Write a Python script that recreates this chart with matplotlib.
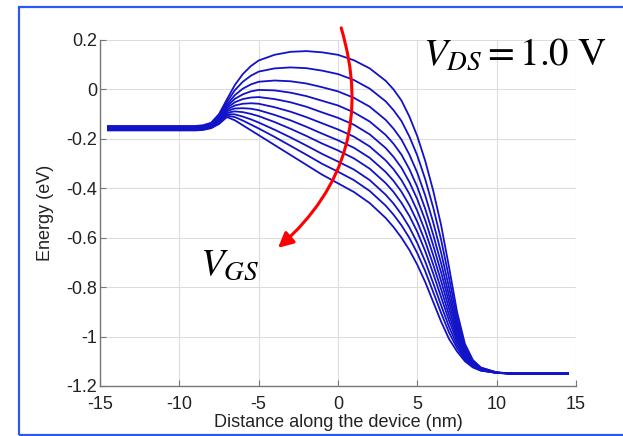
import matplotlib.pyplot as plt
from matplotlib.patches import Rectangle

# position along the device (nm)
distance_nm = [-14.5, -9, -8.5, -8, -7.5, -7, -6.5, -6, -5.5, -5, -4, -3, -2, -1, 0,
               1, 2, 3, 3.5, 4, 4.5, 5, 5.5, 6, 6.5, 7, 7.5, 8, 8.5, 9, 10, 11, 14.5]

# conduction band edge (eV), one profile per gate bias, lowest V_GS first
band_01 = [-0.148, -0.148, -0.145, -0.135, -0.100, -0.040, 0.018, 0.062, 0.094, 0.117, 0.140,
           0.152, 0.155, 0.150, 0.140, 0.118, 0.085, 0.035, 0.000, -0.045, -0.110, -0.190,
           -0.290, -0.410, -0.550, -0.720, -0.900, -1.030, -1.095, -1.125, -1.145, -1.150, -1.150]
band_02 = [-0.151, -0.151, -0.148, -0.138, -0.106, -0.051, -0.003, 0.031, 0.055, 0.072, 0.085,
           0.089, 0.086, 0.076, 0.062, 0.038, 0.003, -0.048, -0.084, -0.128, -0.191, -0.268,
           -0.364, -0.478, -0.609, -0.764, -0.924, -1.041, -1.100, -1.127, -1.145, -1.150, -1.150]
band_03 = [-0.153, -0.153, -0.150, -0.141, -0.111, -0.061, -0.023, 0.003, 0.020, 0.031, 0.036,
           0.033, 0.024, 0.009, -0.008, -0.034, -0.070, -0.123, -0.159, -0.203, -0.264, -0.338,
           -0.430, -0.538, -0.661, -0.803, -0.946, -1.050, -1.104, -1.129, -1.146, -1.150, -1.150]
band_04 = [-0.155, -0.155, -0.153, -0.144, -0.116, -0.068, -0.038, -0.020, -0.008, -0.002, -0.004,
           -0.013, -0.027, -0.046, -0.065, -0.093, -0.130, -0.184, -0.220, -0.264, -0.323, -0.395,
           -0.484, -0.588, -0.704, -0.835, -0.963, -1.058, -1.107, -1.130, -1.146, -1.150, -1.150]
band_05 = [-0.157, -0.157, -0.154, -0.146, -0.120, -0.075, -0.052, -0.039, -0.033, -0.031, -0.039,
           -0.052, -0.070, -0.093, -0.115, -0.143, -0.182, -0.237, -0.273, -0.317, -0.375, -0.445,
           -0.530, -0.631, -0.741, -0.862, -0.978, -1.064, -1.110, -1.131, -1.146, -1.150, -1.150]
band_06 = [-0.158, -0.158, -0.156, -0.148, -0.123, -0.082, -0.065, -0.058, -0.056, -0.058, -0.072,
           -0.090, -0.112, -0.137, -0.162, -0.191, -0.231, -0.287, -0.323, -0.367, -0.423, -0.492,
           -0.574, -0.671, -0.776, -0.888, -0.993, -1.071, -1.112, -1.133, -1.146, -1.150, -1.150]
band_07 = [-0.160, -0.160, -0.158, -0.150, -0.127, -0.088, -0.077, -0.076, -0.078, -0.084, -0.103,
           -0.125, -0.151, -0.179, -0.206, -0.236, -0.277, -0.334, -0.370, -0.414, -0.469, -0.536,
           -0.616, -0.709, -0.809, -0.913, -1.006, -1.077, -1.115, -1.134, -1.146, -1.150, -1.150]
band_08 = [-0.161, -0.161, -0.159, -0.151, -0.130, -0.094, -0.089, -0.092, -0.099, -0.108, -0.132,
           -0.159, -0.188, -0.219, -0.247, -0.279, -0.321, -0.379, -0.415, -0.459, -0.512, -0.577,
           -0.655, -0.745, -0.841, -0.936, -1.019, -1.082, -1.117, -1.135, -1.147, -1.150, -1.150]
band_09 = [-0.163, -0.163, -0.161, -0.153, -0.133, -0.100, -0.101, -0.110, -0.121, -0.134, -0.163,
           -0.194, -0.227, -0.261, -0.292, -0.324, -0.367, -0.426, -0.462, -0.506, -0.558, -0.622,
           -0.697, -0.784, -0.874, -0.961, -1.033, -1.088, -1.120, -1.136, -1.147, -1.150, -1.150]
band_10 = [-0.164, -0.164, -0.162, -0.155, -0.136, -0.106, -0.112, -0.126, -0.142, -0.158, -0.192,
           -0.228, -0.264, -0.301, -0.333, -0.367, -0.411, -0.470, -0.507, -0.550, -0.601, -0.663,
           -0.736, -0.820, -0.905, -0.984, -1.046, -1.094, -1.122, -1.137, -1.147, -1.150, -1.150]
band_11 = [-0.166, -0.166, -0.164, -0.157, -0.140, -0.112, -0.125, -0.145, -0.165, -0.185, -0.225,
           -0.265, -0.305, -0.345, -0.380, -0.415, -0.460, -0.520, -0.557, -0.600, -0.650, -0.710,
           -0.780, -0.860, -0.940, -1.010, -1.060, -1.100, -1.125, -1.138, -1.147, -1.150, -1.150]

band_profiles = [band_01, band_02, band_03, band_04, band_05, band_06,
                 band_07, band_08, band_09, band_10, band_11]

x_ticks = [-15, -10, -5, 0, 5, 10, 15]
y_ticks = [0.2, 0, -0.2, -0.4, -0.6, -0.8, -1, -1.2]
y_tick_labels = ['0.2', '0', '-0.2', '-0.4', '-0.6', '-0.8', '-1', '-1.2']

plt.rcParams['font.family'] = ['Liberation Sans', 'DejaVu Sans']
plt.rcParams['mathtext.fontset'] = 'stix'
plt.rcParams['axes.unicode_minus'] = False

fig = plt.figure(figsize=(6.23, 4.36), dpi=100)
ax = fig.add_axes([0.1605, 0.1147, 0.7641, 0.7936])

for band in band_profiles:
    ax.plot(distance_nm, band, color='#1212c8', linewidth=1.3)

ax.set_xlim(-15, 15)
ax.set_ylim(-1.2, 0.2)
ax.set_xticks(x_ticks)
ax.set_yticks(y_ticks)
ax.set_yticklabels(y_tick_labels)

# MATLAB-ish axes: grey box on two sides, light grid, inward ticks
ax.grid(True, color='#dddddd', linewidth=0.8)
ax.set_axisbelow(True)
for side in ['top', 'right']:
    ax.spines[side].set_visible(False)
for side in ['left', 'bottom']:
    ax.spines[side].set_color('#777777')
    ax.spines[side].set_linewidth(1.0)
ax.tick_params(direction='in', length=4, color='#777777', labelsize=13, labelcolor='#222222')
ax.tick_params(axis='x', pad=7)
ax.tick_params(axis='y', pad=2)

ax.set_xlabel('Distance along the device (nm)', fontsize=13, color='#222222', labelpad=1)
ax.set_ylabel('Energy (eV)', fontsize=13, color='#222222', labelpad=9)

# red arrow: barrier goes down as V_GS increases
ax.annotate('', xy=(-3.78, -0.641), xytext=(0.2, 0.249),
            arrowprops=dict(arrowstyle='-|>,head_length=0.9,head_width=0.45',
                            color='red', linewidth=2.2, shrinkA=0, shrinkB=0,
                            connectionstyle='arc3,rad=-0.32', clip_on=False),
            annotation_clip=False)

fig.text(423 / 623, 1 - 65 / 436, r'$V_{DS}=1.0\ \mathrm{V}$', fontsize=28, va='baseline')
fig.text(200 / 623, 1 - 275 / 436, r'$V_{GS}$', fontsize=28, va='baseline')

# blue frame round the slide panel
fig.patches.append(Rectangle((19 / 623, 1 / 436), 1.0, 428 / 436, transform=fig.transFigure,
                             fill=False, edgecolor='#2a5bf0', linewidth=1.6))

fig.savefig('out.png', dpi=100)
